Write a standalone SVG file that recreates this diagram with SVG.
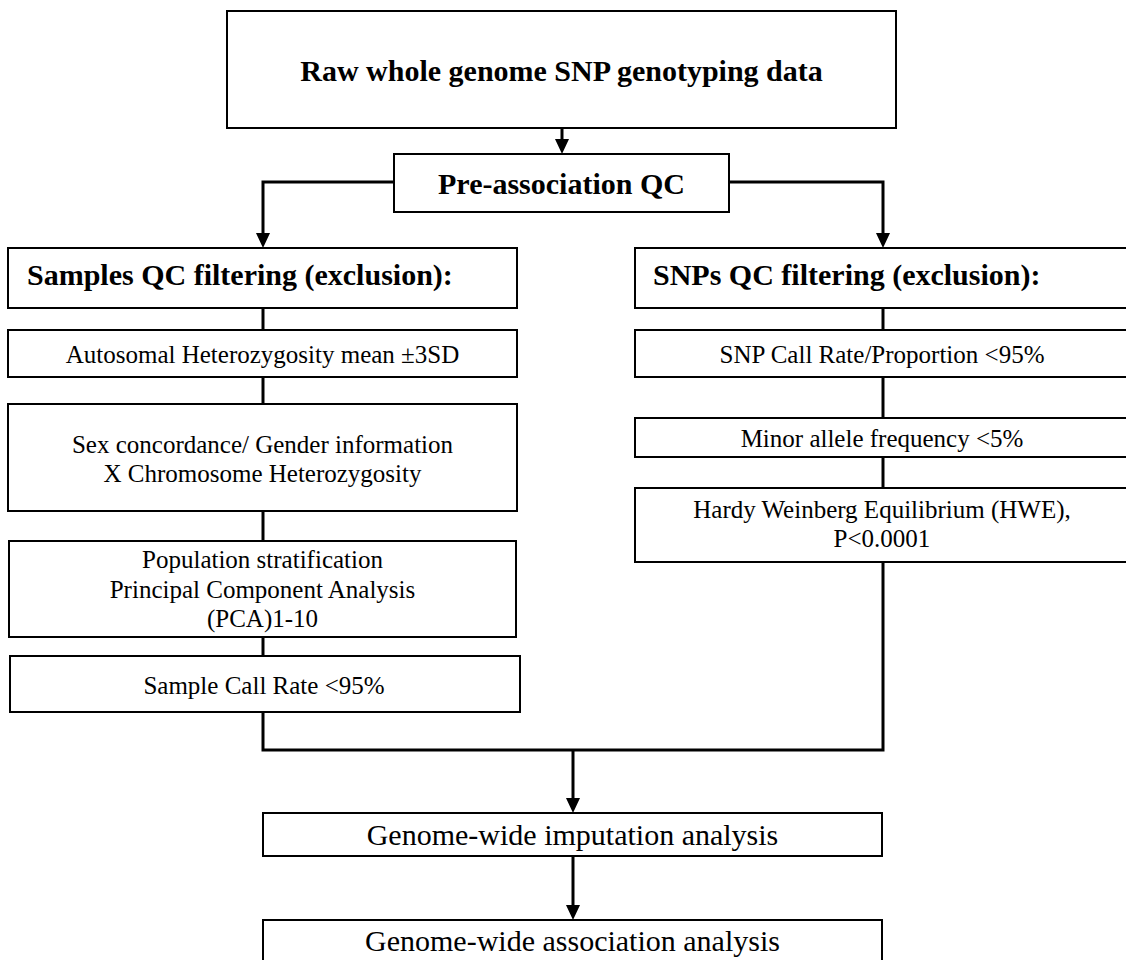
<svg xmlns="http://www.w3.org/2000/svg" width="1126" height="960" viewBox="0 0 1126 960">
<style>
.box{fill:#fff;stroke:#000;stroke-width:2}
.t{font-family:"Liberation Serif","Times New Roman",serif;font-size:25px;fill:#000;text-anchor:middle}
.b{font-weight:bold;font-size:30px}
.big{font-size:30px}
.h{font-family:"Liberation Serif","Times New Roman",serif;font-size:30px;font-weight:bold;fill:#000}
.c{fill:none;stroke:#000;stroke-width:3}
.ah{fill:#000}
</style>
<rect width="1126" height="960" fill="#fff"/>
<g id="connectors">
<line class="c" x1="562" y1="128" x2="562" y2="140"/>
<path class="ah" d="M555,139 L569,139 L562,154 Z"/>
<path class="c" d="M394,182 H263 V234"/>
<path class="ah" d="M256,233 L270,233 L263,248 Z"/>
<path class="c" d="M729,182 H883 V234"/>
<path class="ah" d="M876,233 L890,233 L883,248 Z"/>
<line class="c" x1="263" y1="308" x2="263" y2="330"/>
<line class="c" x1="263" y1="377" x2="263" y2="404"/>
<line class="c" x1="263" y1="511" x2="263" y2="541"/>
<line class="c" x1="263" y1="637" x2="263" y2="656"/>
<line class="c" x1="883" y1="308" x2="883" y2="330"/>
<line class="c" x1="883" y1="377" x2="883" y2="418"/>
<line class="c" x1="883" y1="457" x2="883" y2="488"/>
<path class="c" d="M263,712 V750 H883 V562"/>
<line class="c" x1="573" y1="750" x2="573" y2="799"/>
<path class="ah" d="M566,798 L580,798 L573,813 Z"/>
<line class="c" x1="573" y1="856" x2="573" y2="906"/>
<path class="ah" d="M566,905 L580,905 L573,920 Z"/>
</g>
<g id="raw">
<rect class="box" x="227" y="11" width="669" height="117"/>
<text class="t b" x="561.5" y="81">Raw whole genome SNP genotyping data</text>
</g>
<g id="preqc">
<rect class="box" x="394" y="154" width="335" height="58"/>
<text class="t b" x="561.5" y="194">Pre-association QC</text>
</g>
<g id="samples">
<rect class="box" x="8" y="248" width="509" height="60"/>
<text class="h" x="27" y="285">Samples QC filtering (exclusion):</text>
</g>
<g id="snps">
<rect class="box" x="635" y="248" width="500" height="60"/>
<text class="h" x="653" y="285">SNPs QC filtering (exclusion):</text>
</g>
<g id="autosomal">
<rect class="box" x="8" y="330" width="509" height="47"/>
<text class="t" x="262.5" y="363">Autosomal Heterozygosity mean ±3SD</text>
</g>
<g id="sex">
<rect class="box" x="8" y="404" width="509" height="107"/>
<text class="t" x="262.5" y="453">Sex concordance/ Gender information</text>
<text class="t" x="262.5" y="482">X Chromosome Heterozygosity</text>
</g>
<g id="pop">
<rect class="box" x="9" y="541" width="507" height="96"/>
<text class="t" x="262.5" y="568">Population stratification</text>
<text class="t" x="262.5" y="598">Principal Component Analysis</text>
<text class="t" x="262.5" y="627">(PCA)1-10</text>
</g>
<g id="samplecall">
<rect class="box" x="10" y="656" width="510" height="56"/>
<text class="t" x="264" y="694">Sample Call Rate &lt;95%</text>
</g>
<g id="snpcall">
<rect class="box" x="635" y="330" width="500" height="47"/>
<text class="t" x="882" y="363">SNP Call Rate/Proportion &lt;95%</text>
</g>
<g id="maf">
<rect class="box" x="635" y="418" width="500" height="39"/>
<text class="t" x="882" y="447">Minor allele frequency &lt;5%</text>
</g>
<g id="hwe">
<rect class="box" x="635" y="488" width="500" height="74"/>
<text class="t" x="882" y="518">Hardy Weinberg Equilibrium (HWE),</text>
<text class="t" x="882" y="547">P&lt;0.0001</text>
</g>
<g id="imputation">
<rect class="box" x="263" y="813" width="619" height="43"/>
<text class="t big" x="572.5" y="845">Genome-wide imputation analysis</text>
</g>
<g id="association">
<rect class="box" x="263" y="920" width="619" height="60"/>
<text class="t big" x="572.5" y="951">Genome-wide association analysis</text>
</g>
</svg>
